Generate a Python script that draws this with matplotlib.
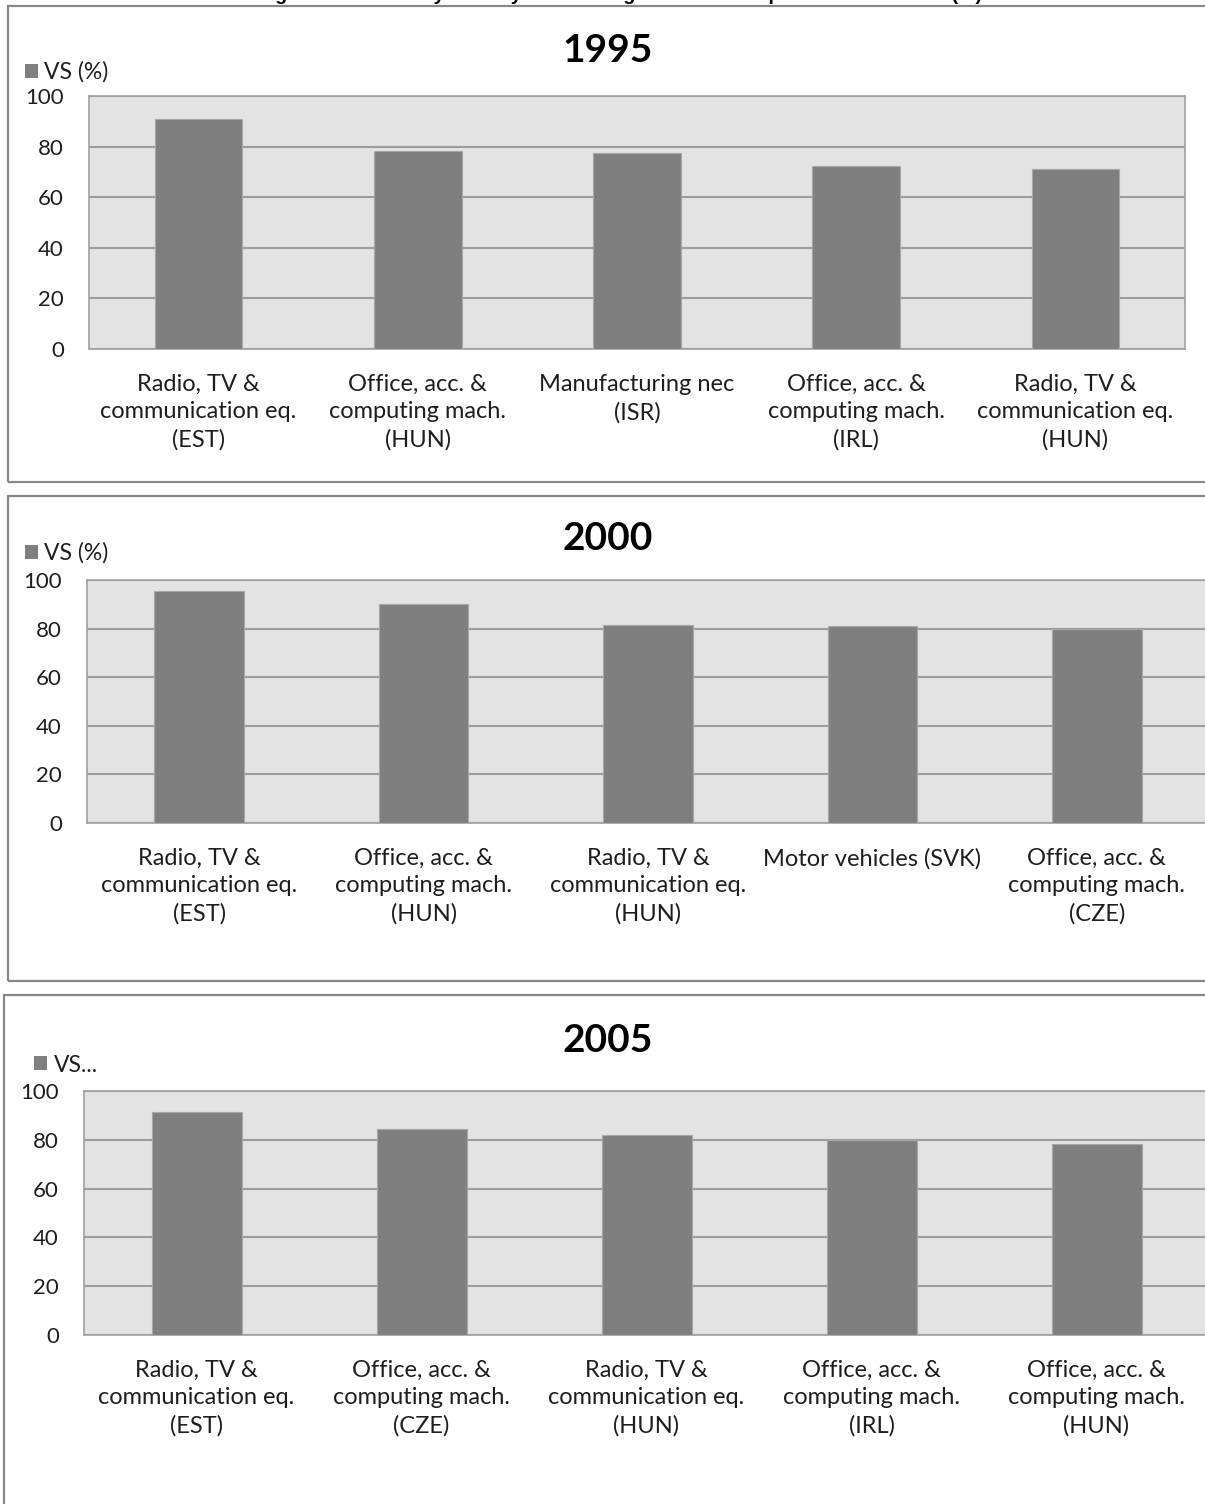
import matplotlib
matplotlib.use('Agg')
import matplotlib.pyplot as plt
from matplotlib.patches import Rectangle, Patch

W, H = 1205, 1504

caption = 'Figure 3.1 - Industry/country with the highest Vertical Specialisation Share (%)'

years = ['1995', '2000', '2005']

labels_1995 = ['Radio, TV &\ncommunication eq.\n(EST)',
               'Office, acc. &\ncomputing mach.\n(HUN)',
               'Manufacturing nec\n(ISR)',
               'Office, acc. &\ncomputing mach.\n(IRL)',
               'Radio, TV &\ncommunication eq.\n(HUN)']
vs_1995 = [91.1, 78.4, 77.6, 72.5, 71.3]

labels_2000 = ['Radio, TV &\ncommunication eq.\n(EST)',
               'Office, acc. &\ncomputing mach.\n(HUN)',
               'Radio, TV &\ncommunication eq.\n(HUN)',
               'Motor vehicles (SVK)',
               'Office, acc. &\ncomputing mach.\n(CZE)']
vs_2000 = [95.5, 90.3, 81.4, 81.0, 79.9]

labels_2005 = ['Radio, TV &\ncommunication eq.\n(EST)',
               'Office, acc. &\ncomputing mach.\n(CZE)',
               'Radio, TV &\ncommunication eq.\n(HUN)',
               'Office, acc. &\ncomputing mach.\n(IRL)',
               'Office, acc. &\ncomputing mach.\n(HUN)']
vs_2005 = [91.4, 84.5, 81.8, 80.0, 78.4]

legend_text = ['VS (%)', 'VS (%)', 'VS...']
yticks = [0, 20, 40, 60, 80, 100]

# pixel layout: chart box (left, top, bottom), plot area (left, right, top, bottom),
# title centre y, legend (x, y)
boxes = [(8, 6, 482), (8, 496, 981), (4, 995, 1520)]
plots = [(89, 1185, 96, 349), (87, 1209, 580, 823), (84, 1209, 1091, 1335)]
title_y = [51, 539, 1041]
legend_xy = [(25, 72), (25, 553), (34, 1065)]

plt.rcParams['font.family'] = ['Lato', 'DejaVu Sans']

fig = plt.figure(figsize=(W / 100, H / 100), dpi=100)
fig.patch.set_facecolor('white')

# page caption sits above the charts and is mostly cropped away
fig.text(620 / W, 1 + 0.5 / H, caption, ha='center', va='baseline',
         fontsize=14, fontweight='bold', family=['Liberation Sans'])

bar_color = '#7F7F7F'
grid_color = '#9C9C9C'
border_color = '#878787'
text_color = '#1E1E1E'

for i, (labels, values) in enumerate([(labels_1995, vs_1995),
                                      (labels_2000, vs_2000),
                                      (labels_2005, vs_2005)]):
    bx, btop, bbot = boxes[i]
    fig.add_artist(Rectangle((bx / W, 1 - bbot / H), (W + 20 - bx) / W, (bbot - btop) / H,
                             transform=fig.transFigure, fill=False,
                             edgecolor=border_color, lw=1.6))

    l, r, t, b = plots[i]
    ax = fig.add_axes([l / W, 1 - b / H, (r - l) / W, (b - t) / H])
    ax.set_facecolor('#E3E3E3')
    x = range(len(values))
    ax.bar(x, values, width=0.4, color=bar_color, edgecolor='#A8A8A8', linewidth=0.8, zorder=3)
    ax.set_xlim(-0.5, len(values) - 0.5)
    ax.set_ylim(0, 100)
    ax.set_yticks(yticks)
    ax.set_xticks(list(x))
    ax.set_xticklabels(labels, fontsize=17, color=text_color, linespacing=1.38)
    ax.tick_params(axis='y', labelsize=16, length=0, pad=18, labelcolor=text_color)
    ax.tick_params(axis='x', length=0, pad=18)
    ax.yaxis.grid(True, color=grid_color, lw=1.5, zorder=1)
    ax.set_axisbelow(True)
    for s in ax.spines.values():
        s.set_color('#A0A0A0')
        s.set_linewidth(1.2)

    fig.text(608 / W, 1 - title_y[i] / H, years[i], ha='center', va='center',
             fontsize=28, fontweight='bold', color='black')

    lx, ly = legend_xy[i]
    fig.legend(handles=[Patch(facecolor=bar_color, edgecolor='none', label=legend_text[i])],
               loc='center left', bbox_to_anchor=(lx / W, 1 - ly / H),
               frameon=False, fontsize=16.5, handlelength=0.55, handleheight=0.55,
               handletextpad=0.3, borderpad=0, borderaxespad=0, labelcolor=text_color)

fig.savefig('out.png', dpi=100)
